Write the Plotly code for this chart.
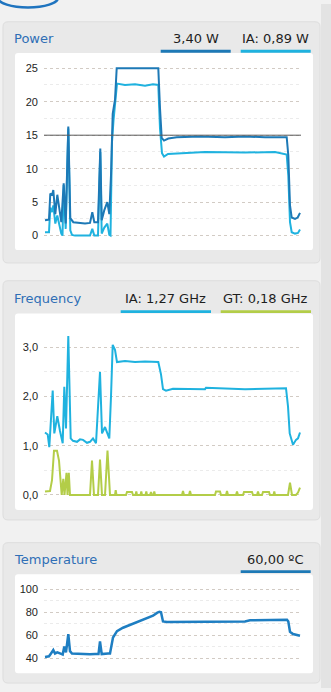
import plotly.graph_objects as go

W, H = 331, 692

# ---------------- data ----------------
power_t = [0, 2, 4, 5.3, 7, 8.3, 10.3, 12.3, 14.3, 16.3,
           18.7, 20.7, 23.3, 25.3, 28.3, 35, 40, 45, 47.3, 49.3,
           53, 55.3, 56.7, 59.3, 62.3, 64.3, 66, 67.7, 70, 71.7,
           80, 90, 100, 113.3, 115, 116.7, 119, 123.3, 131.7, 155,
           180, 200, 220, 241.7, 243.3, 245, 246.7, 250, 252.7, 255]
power_total = [2.3, 2.4, 2.4, 6.3, 6.0, 6.8, 3.2, 6.1, 4.0, 2.0,
               7.8, 1.8, 16.3, 2.6, 2.0, 1.9, 1.8, 1.9, 3.5, 2.0,
               2.0, 13.0, 2.3, 3.8, 5.0, 3.2, 9.0, 18.2, 20.3, 25,
               25, 25, 25, 25, 19, 14.6, 14.2, 14.5, 14.7, 14.8,
               14.7, 14.8, 14.7, 14.7, 12, 4.5, 2.7, 2.5, 2.7, 3.4]

power_ia_t = [0, 4, 5.3, 7, 8.3, 10.3, 12.3, 14.3, 16.3, 17.5,
              18.7, 20.7, 23.3, 25.3, 27, 30, 45, 47.3, 49.3, 53,
              55.3, 56.7, 59.3, 62.3, 64.3, 65.5, 67, 68.5, 70, 72,
              80, 90, 100, 108, 113.3, 115, 117, 119, 123, 140,
              160, 200, 230, 241.7, 243.3, 245, 246.7, 250, 253, 255]
power_ia = [0.5, 0.5, 4.2, 3.5, 4.5, 1.8, 3.0, 1.5, 0.3, 0,
            7.5, 1.0, 16.0, 0.8, 0.1, 0, 0, 1.0, 0, 0,
            12.5, 0.3, 1.2, 1.8, 0.1, 0, 14, 17.2, 19.5, 22.7,
            22.5, 22.6, 22.4, 22.6, 22.5, 16, 12.3, 11.8, 12.2, 12.3,
            12.5, 12.4, 12.5, 12.1, 9, 2.0, 0.5, 0.3, 0.4, 0.9]
power_threshold = 15

freq_ia_t = [0, 2.7, 4.3, 6, 7.7, 9.3, 10.5, 12.3, 15, 17.7,
             19.3, 21, 23.3, 25.7, 28, 32, 35, 38, 42, 45,
             48, 51, 55, 57, 60, 63, 64.3, 66, 67.7, 70,
             72, 80, 90, 100, 110, 113.3, 116, 118, 121, 128,
             160, 161, 200, 241, 243, 244.7, 248, 251, 253, 255]
freq_ia = [1.27, 1.23, 0.97, 1.6, 2.12, 1.25, 1.4, 1.6, 1.3, 1.05,
           2.2, 1.35, 3.23, 1.15, 1.1, 1.08, 1.13, 1.12, 1.06, 1.08,
           1.15, 1.05, 2.5, 1.25, 1.38, 1.22, 1.15, 2.0, 3.05, 2.95,
           2.7, 2.72, 2.7, 2.71, 2.7, 2.7, 2.45, 2.15, 2.12, 2.16,
           2.15, 2.18, 2.15, 2.17, 1.8, 1.25, 1.02, 1.12, 1.15, 1.27]

freq_gt_t = [0, 5, 7, 9, 12, 14, 16.7, 18.3, 19.5, 21.5,
             22.5, 23.8, 25, 45, 47, 49, 53, 55, 57, 60,
             62.5, 65, 70, 70.7, 71.5, 81, 82, 87, 88, 90.5,
             91.3, 92, 95.5, 96.3, 97, 100.5, 101.3, 102, 105, 106,
             107, 108.5, 109.3, 110, 137, 138, 139, 144, 145, 146,
             170, 171, 175, 176, 181, 182, 183, 191, 192, 193,
             198, 199, 207, 208, 212, 213, 214, 217, 218, 224,
             225, 228.5, 229.3, 230, 243, 245, 247, 251, 253, 255]
freq_gt = [0.07, 0.08, 0.3, 0.9, 0.9, 0.7, 0, 0.33, 0, 0.45,
           0, 0.45, 0, 0, 0.7, 0, 0, 0.72, 0, 0,
           0.9, 0, 0, 0.1, 0, 0, 0.06, 0.06, 0, 0,
           0.07, 0, 0, 0.07, 0, 0, 0.07, 0, 0, 0.06,
           0, 0, 0.07, 0, 0, 0.08, 0, 0, 0.08, 0,
           0, 0.07, 0.07, 0, 0, 0.08, 0, 0, 0.07, 0,
           0, 0.06, 0.06, 0, 0, 0.07, 0, 0, 0.06, 0.06,
           0, 0, 0.07, 0, 0, 0.25, 0, 0, 0.05, 0.15]

temp_t = [0, 4, 6, 8.3, 10, 12.3, 15, 17.7, 19.3, 21,
          23.3, 25, 27, 35, 45, 50, 53.5, 55, 56.7, 63,
          65, 68, 72, 78, 88, 95, 102, 108, 112, 114.3,
          116, 118, 122, 160, 162, 200, 205, 215, 242, 243.3,
          245, 248, 252, 255]
temp = [41, 41.5, 44, 47, 44, 45, 44, 43, 50, 45,
        61, 46, 44, 43.5, 43.3, 43.6, 43.5, 54.5, 43.5, 44,
        44, 58, 63.5, 66.5, 70, 73, 75.5, 77, 79.5, 80.5,
        80, 72, 71.5, 71.5, 72, 72, 73, 73, 73.5, 72,
        63, 61, 60.5, 59.5]

power_ticks = [0, 5, 10, 15, 20, 25]
freq_ticks = [0, 1, 2, 3]
freq_ticktext = ["0,0", "1,0", "2,0", "3,0"]
temp_ticks = [40, 60, 80, 100]

titles = ["Power", "Frequency", "Temperature"]
power_legend = ["3,40 W", "IA: 0,89 W"]
freq_legend = ["IA: 1,27 GHz", "GT: 0,18 GHz"]
temp_legend = ["60,00 ºC"]

# ---------------- styles ----------------
C_DARK = "#1d79b6"
C_CYAN = "#1fb2df"
C_GREEN = "#b3cd48"
C_TEMP = "#1e7ec2"
C_TITLE = "#2f6fb6"
PAGE_BG = "#f1f1f1"
PANEL_BG = "#e9e9e9"
TXT_FONT = "Lucida Grande, DejaVu Sans, sans-serif"
TICK_FONT = "Liberation Sans, Arial, sans-serif"


def px(x):
    return x / W


def py(y):
    return 1 - y / H


def rrect(x0, y0, x1, y1, r):
    pts = [("M", [(x0 + r, y0)]), ("L", [(x1 - r, y0)]), ("Q", [(x1, y0), (x1, y0 + r)]),
           ("L", [(x1, y1 - r)]), ("Q", [(x1, y1), (x1 - r, y1)]), ("L", [(x0 + r, y1)]),
           ("Q", [(x0, y1), (x0, y1 - r)]), ("L", [(x0, y0 + r)]), ("Q", [(x0, y0), (x0 + r, y0)])]
    s = ""
    for cmd, ps in pts:
        s += cmd + " " + " ".join(f"{px(a):.5f},{py(b):.5f}" for a, b in ps) + " "
    return s + "Z"


fig = go.Figure()

fig.add_trace(go.Scatter(x=power_ia_t, y=power_ia, mode="lines",
                         line=dict(color=C_CYAN, width=2), xaxis="x", yaxis="y"))
fig.add_trace(go.Scatter(x=power_t, y=power_total, mode="lines",
                         line=dict(color=C_DARK, width=2), xaxis="x", yaxis="y"))
fig.add_trace(go.Scatter(x=freq_gt_t, y=freq_gt, mode="lines",
                         line=dict(color=C_GREEN, width=2), xaxis="x2", yaxis="y2"))
fig.add_trace(go.Scatter(x=freq_ia_t, y=freq_ia, mode="lines",
                         line=dict(color=C_CYAN, width=2), xaxis="x2", yaxis="y2"))
fig.add_trace(go.Scatter(x=temp_t, y=temp, mode="lines",
                         line=dict(color=C_TEMP, width=2.5), xaxis="x3", yaxis="y3"))

xdom = [px(44), px(301)]
xcommon = dict(domain=xdom, range=[-1, 256], showticklabels=False, tickvals=[0],
               showgrid=True, griddash="dot", gridcolor="#cfcfcf", gridwidth=1,
               zeroline=False, showline=False, ticks="")


def ycommon(dom_top, dom_bot, rng, tickvals, minor_dtick, ticktext=None):
    d = dict(domain=[py(dom_bot), py(dom_top)], range=rng, tickvals=tickvals,
             showgrid=True, griddash="dot", gridcolor="#d2cbc4", gridwidth=1,
             zeroline=False, showline=False, ticks="", ticklabelstandoff=5,
             tickfont=dict(family=TICK_FONT, size=11, color="#1e1e1e"),
             minor=dict(dtick=minor_dtick, tick0=0, showgrid=True, griddash="dot",
                        gridcolor="#ebebeb", ticks=""))
    if ticktext is not None:
        d["ticktext"] = ticktext
    return d


layout = dict(
    width=W, height=H, margin=dict(l=0, r=0, t=0, b=0),
    paper_bgcolor=PAGE_BG, plot_bgcolor="rgba(0,0,0,0)", showlegend=False,
    xaxis=dict(**xcommon, anchor="y"),
    xaxis2=dict(**xcommon, anchor="y2"),
    xaxis3=dict(**xcommon, anchor="y3"),
    yaxis=ycommon(61.6, 237.7, [-0.5, 25.5], power_ticks, 2.5),
    yaxis2=ycommon(332.4, 499.7, [-0.06, 3.3], freq_ticks, 0.5, freq_ticktext),
    yaxis3=ycommon(590.0, 664.0, [38, 102], temp_ticks, 10),
)
layout["yaxis"]["anchor"] = "x"
layout["yaxis2"]["anchor"] = "x2"
layout["yaxis3"]["anchor"] = "x3"
fig.update_layout(**layout)

shapes = []
# right strip
shapes.append(dict(type="rect", xref="paper", yref="paper", x0=px(321), x1=px(331), y0=0, y1=1,
                   fillcolor="#e3e3e3", line=dict(width=0), layer="below"))
# logo arc (bottom of an oval, mostly off-screen)
shapes.append(dict(type="circle", xref="paper", yref="paper", x0=px(-2), x1=px(58), y0=py(3.5), y1=py(-16),
                   line=dict(color="#1f74bf", width=2.5), layer="below"))
# panels and white boxes
panels = [(18, 262), (280, 522), (545, 687)]
boxes = [(49.5, 249), (313, 512), (577, 677)]
for (t, b) in panels:
    shapes.append(dict(type="path", xref="paper", yref="paper", path=rrect(3, t, 320, b, 5),
                       fillcolor=PANEL_BG, line=dict(color="#dddddd", width=1), layer="below"))
for (t, b) in boxes:
    shapes.append(dict(type="path", xref="paper", yref="paper", path=rrect(15, t, 313, b, 3),
                       fillcolor="#ffffff", line=dict(width=0), layer="below"))
# legend underlines
underlines = [(160.7, 230.7, 47.8, C_DARK), (240.7, 310.7, 47.8, C_CYAN),
              (120.7, 211.0, 311.3, C_CYAN), (220.7, 311.0, 311.3, C_GREEN),
              (240.7, 310.7, 574.3, C_DARK)]
for (a, b, y, c) in underlines:
    shapes.append(dict(type="rect", xref="paper", yref="paper", x0=px(a), x1=px(b),
                       y0=py(y + 1.4), y1=py(y - 1.4), fillcolor=c, line=dict(width=0)))
# threshold line on power chart
shapes.append(dict(type="line", xref="x domain", yref="y", x0=0, x1=1,
                   y0=power_threshold, y1=power_threshold,
                   line=dict(color="#5a5a5a", width=1)))
fig.update_layout(shapes=shapes)

ann = []
title_y = [35, 298, 562]
for name, yy in zip(titles, title_y):
    ann.append(dict(text=name, x=px(11.5), y=py(yy), xref="paper", yref="paper",
                    xanchor="left", yanchor="middle", showarrow=False,
                    font=dict(family=TXT_FONT, size=13, color=C_TITLE)))
legend_items = [(power_legend[0], 195.7, 35), (power_legend[1], 275.7, 35),
                (freq_legend[0], 165.9, 298), (freq_legend[1], 265.9, 298),
                (temp_legend[0], 275.7, 562)]
for txt, cx, yy in legend_items:
    ann.append(dict(text=txt, x=px(cx), y=py(yy), xref="paper", yref="paper",
                    xanchor="center", yanchor="middle", showarrow=False,
                    font=dict(family=TXT_FONT, size=13, color="#1e1e1e")))
fig.update_layout(annotations=ann)

fig.write_html("out.html")
